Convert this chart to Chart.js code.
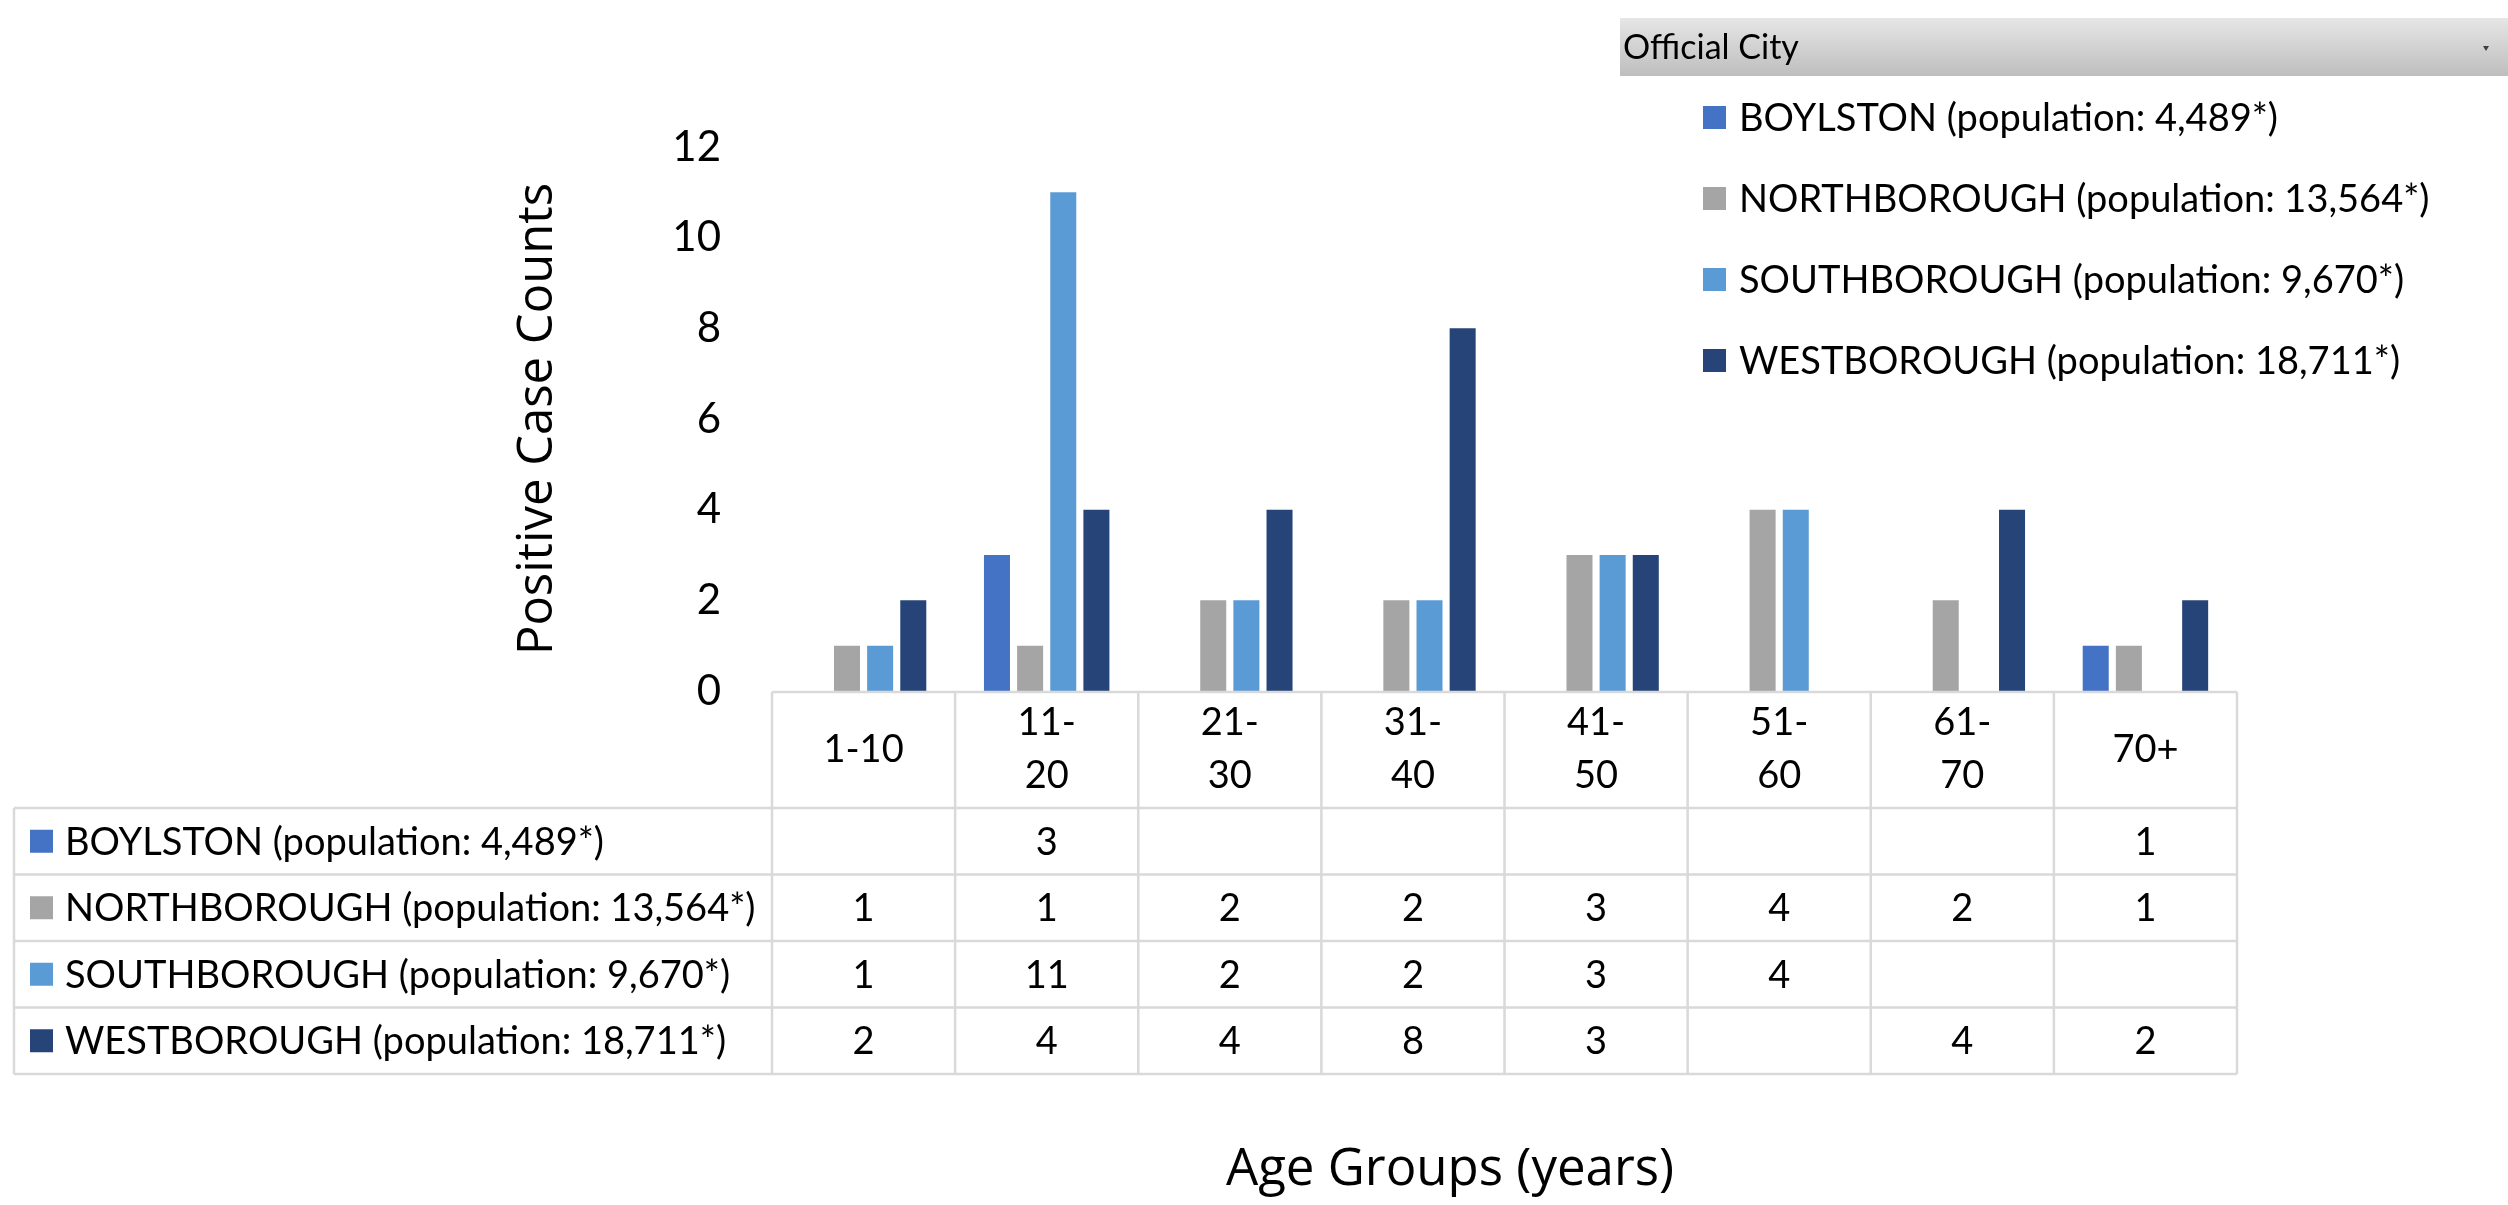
<!DOCTYPE html>
<html><head><meta charset="utf-8">
<script src="https://cdn.jsdelivr.net/npm/chart.js@4.4.1/dist/chart.umd.min.js"></script>
<style>html,body{margin:0;padding:0;background:#fff;overflow:hidden}
#wrap{position:relative;width:2508px;height:1205px}</style>
</head><body><div id="wrap"><canvas id="c"></canvas></div>
<script>
// ---- data ----
const categories = ['1-10','11-20','21-30','31-40','41-50','51-60','61-70','70+'];
const tickLabels = [['1-10'],['11-','20'],['21-','30'],['31-','40'],['41-','50'],['51-','60'],['61-','70'],['70+']];
const seriesNames = ['BOYLSTON (population: 4,489*)','NORTHBOROUGH (population: 13,564*)','SOUTHBOROUGH (population: 9,670*)','WESTBOROUGH (population: 18,711*)'];
const boylston     = [null, 3, null, null, null, null, null, 1];
const northborough = [1, 1, 2, 2, 3, 4, 2, 1];
const southborough = [1, 11, 2, 2, 3, 4, null, null];
const westborough  = [2, 4, 4, 8, 3, null, 4, 2];
const yTicks = [0, 2, 4, 6, 8, 10, 12];
const legendTitle = 'Official City';
const xTitle = 'Age Groups (years)';
const yTitle = 'Positive Case Counts';

// ---- styles ----
const seriesColors = ['#4472C4', '#A5A5A5', '#5B9BD5', '#264478'];
const gridColor = '#D9D9D9';
const labelFont = '38px Lato';

const seriesValues = [boylston, northborough, southborough, westborough];

const tablePlugin = {
  id: 'dataTable',
  afterDraw(chart, args, o) {
    const ctx = chart.ctx;
    const xs = chart.scales.x;
    const area = chart.chartArea;
    const n = categories.length;
    const colW = (xs.right - xs.left) / n;
    const edges = [];
    for (let i = 0; i < n; i++) edges.push(xs.getPixelForValue(i) - colW / 2);
    edges.push(xs.getPixelForValue(n - 1) + colW / 2);
    const top = area.bottom + 1;
    const rows = chart.data.datasets.length;
    const bottom = o.headerBottom + rows * o.rowHeight;
    ctx.save();
    ctx.strokeStyle = gridColor;
    ctx.lineWidth = 2.5;
    const line = (x1, y1, x2, y2) => { ctx.beginPath(); ctx.moveTo(x1, y1); ctx.lineTo(x2, y2); ctx.stroke(); };
    line(edges[0], top, edges[n], top);
    for (let r = 0; r <= rows; r++) {
      const y = o.headerBottom + r * o.rowHeight;
      line(o.left, y, edges[n], y);
    }
    line(o.left, o.headerBottom, o.left, bottom);
    edges.forEach(e => line(e, top, e, bottom));

    ctx.textBaseline = 'middle';
    chart.data.datasets.forEach((ds, r) => {
      const cy = o.headerBottom + (r + 0.5) * o.rowHeight;
      ctx.fillStyle = ds.backgroundColor;
      ctx.fillRect(o.left + 16, cy - 11.5, 23, 23);
      ctx.fillStyle = '#000';
      ctx.font = labelFont;
      ctx.textAlign = 'left';
      ctx.fillText(ds.label, o.left + 51, cy + 1);
      ctx.textAlign = 'center';
      ds.data.forEach((v, i) => {
        if (v === null || v === undefined) return;
        ctx.fillText(String(v), xs.getPixelForValue(i), cy + 1);
      });
    });

    // legend (pivot field button + entries)
    const L = o.legend;
    const g = ctx.createLinearGradient(0, L.top, 0, L.top + L.headerH);
    g.addColorStop(0, '#E6E6E6');
    g.addColorStop(1, '#BEBEBE');
    ctx.fillStyle = g;
    ctx.fillRect(L.left, L.top, chart.width - L.left, L.headerH);
    ctx.fillStyle = '#000';
    ctx.font = '34px Lato';
    ctx.textAlign = 'left';
    ctx.fillText(legendTitle, L.left + 3, L.top + L.headerH / 2 + 1);
    ctx.fillStyle = '#404040';
    ctx.beginPath();
    ctx.moveTo(chart.width - 25, L.top + 28);
    ctx.lineTo(chart.width - 19, L.top + 28);
    ctx.lineTo(chart.width - 22, L.top + 33);
    ctx.closePath(); ctx.fill();
    chart.data.datasets.forEach((ds, r) => {
      const cy = L.firstY + r * L.step;
      ctx.fillStyle = ds.backgroundColor;
      ctx.fillRect(L.itemX, cy - 11.5, 23, 23);
      ctx.fillStyle = '#000';
      ctx.font = labelFont;
      ctx.fillText(ds.label, L.itemX + 36, cy + 1);
    });

    // x axis title
    ctx.font = '51px "Open Sans"';
    ctx.textAlign = 'center';
    ctx.fillStyle = '#000';
    ctx.fillText(xTitle, o.xTitleX, o.xTitleY);
    ctx.restore();
  }
};

Chart.defaults.font.family = 'Lato';
Chart.defaults.color = '#000';

new Chart(document.getElementById('c'), {
  type: 'bar',
  data: {
    labels: tickLabels,
    datasets: seriesNames.map((name, i) => ({
      label: name,
      data: seriesValues[i],
      backgroundColor: seriesColors[i],
      borderWidth: 0,
      categoryPercentage: 0.724,
      barPercentage: 0.785
    }))
  },
  options: {
    responsive: true,
    maintainAspectRatio: false,
    animation: false,
    devicePixelRatio: 1,
    layout: { padding: { left: 0, right: 271, top: 147, bottom: 0 } },
    plugins: {
      legend: { display: false },
      tooltip: { enabled: false },
      dataTable: {
        left: 14, headerBottom: 808, rowHeight: 66.5,
        xTitleX: 1450, xTitleY: 1170,
        legend: { left: 1620, top: 18, headerH: 58, itemX: 1703, firstY: 117.5, step: 81 }
      }
    },
    scales: {
      x: {
        grid: { display: false, drawTicks: false },
        border: { display: false },
        ticks: {
          autoSkip: false, maxRotation: 0, minRotation: 0,
          padding: 32, crossAlign: 'center',
          font: { size: 38, lineHeight: '53px' }, color: '#000'
        },
        afterFit: s => { s.height = 514; }
      },
      y: {
        min: 0, max: 12,
        grid: { display: false, drawTicks: false },
        border: { display: false },
        afterBuildTicks: s => { s.ticks = yTicks.map(v => ({ value: v })); },
        ticks: { padding: 51, font: { size: 42 }, color: '#000' },
        title: {
          display: true, text: yTitle, color: '#000',
          font: { family: 'Open Sans', size: 49, lineHeight: 1.2 },
          padding: { top: 509, bottom: 0 }
        },
        afterFit: s => { s.width = 772; }
      }
    }
  },
  plugins: [tablePlugin]
});
</script>
</body></html>
